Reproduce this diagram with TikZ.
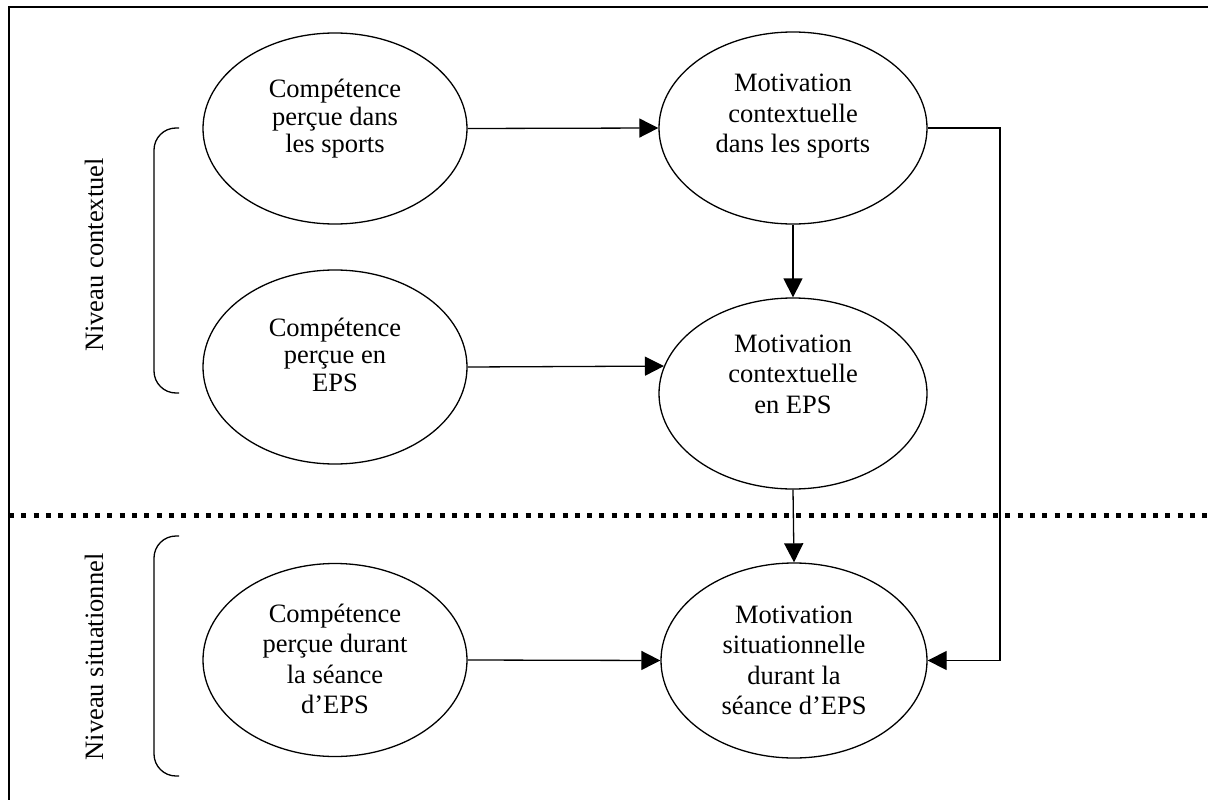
\documentclass[tikz,border=0pt]{standalone}
\usepackage{fontspec}
\setmainfont{Liberation Serif}
\usetikzlibrary{arrows.meta,shapes.geometric}
\tikzset{
  ell/.style={ellipse, draw, line width=1.3pt, inner sep=0pt},
  txt/.style={anchor=base, inner sep=0pt, font=\fontsize{26.5}{30.5}\selectfont},
  txtn/.style={anchor=base, inner sep=0pt, font=\fontsize{26.5}{27.5}\selectfont},
  conn/.style={line width=1.3pt, -{Triangle[length=19pt,width=19pt]}},
  brace/.style={line width=1.3pt, rounded corners=22pt},
  lvl/.style={rotate=90, anchor=base, inner sep=0pt, font=\fontsize{26.5}{30.5}\selectfont}
}
\begin{document}
\begin{tikzpicture}[x=1pt,y=-1pt]
\useasboundingbox (0,0) rectangle (1208,800);
\clip (0,0) rectangle (1208,800);
% frame
\draw[line width=2pt] (9,7) rectangle (1230,820);
% level separator
\draw[line width=5pt, dash pattern=on 5pt off 7.3pt] (9,515) -- (1208,515);
% ellipses
\node[ell, minimum width=264pt, minimum height=191pt] (tl) at (335,128.5) {};
\node[ell, minimum width=268pt, minimum height=192pt] (tr) at (793,128) {};
\node[ell, minimum width=264pt, minimum height=194pt] (ml) at (335,367) {};
\node[ell, minimum width=268pt, minimum height=191pt] (mr) at (793,393.5) {};
\node[ell, minimum width=264pt, minimum height=193pt] (bl) at (335,660) {};
\node[ell, minimum width=266pt, minimum height=195pt] (br) at (794,660.5) {};
% texts
\node[txtn] (tlt) at (335,98) {\begin{tabular}[t]{@{}c@{}}Compétence\\perçue dans\\les sports\end{tabular}};
\node[txt] (trt) at (793,92) {\begin{tabular}[t]{@{}c@{}}Motivation\\contextuelle\\dans les sports\end{tabular}};
\node[txtn] (mlt) at (335,336) {\begin{tabular}[t]{@{}c@{}}Compétence\\perçue en\\EPS\end{tabular}};
\node[txt] (mrt) at (793,352) {\begin{tabular}[t]{@{}c@{}}Motivation\\contextuelle\\en EPS\end{tabular}};
\node[txt] (blt) at (335,622) {\begin{tabular}[t]{@{}c@{}}Compétence\\perçue durant\\la séance\\d’EPS\end{tabular}};
\node[txt] (brt) at (794,623) {\begin{tabular}[t]{@{}c@{}}Motivation\\situationnelle\\durant la\\séance d’EPS\end{tabular}};
% level labels
\node[lvl] (lc) at (103,255) {Niveau contextuel};
\node[lvl] (ls) at (103,657) {Niveau situationnel};
% braces
\draw[brace] (179,128) -- (154,128) -- (154,393) -- (179,393);
\draw[brace] (179,536) -- (154,536) -- (154,776) -- (179,776);
% connectors
\draw[conn] (tl.east) -- (tr.west);
\draw[conn] (tr.south) -- (mr.north);
\draw[conn] (ml.east) -- (mr.168);
\draw[conn] (mr.south) -- (br.north);
\draw[conn] (bl.east) -- (br.west);
\coordinate (rc) at (1000,128);
\draw[conn] (tr.east) -- (rc) |- (br.east);
\end{tikzpicture}
\end{document}
